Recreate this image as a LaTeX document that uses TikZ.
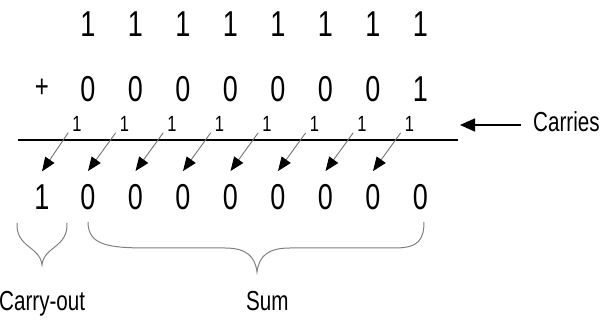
\documentclass[tikz,border=0pt]{standalone}
\usepackage{fontspec}
\setmainfont{Liberation Sans}[FakeStretch=0.75]
\usetikzlibrary{arrows.meta}
\tikzset{
  digit/.style={inner sep=0pt, font=\fontsize{36}{40}\selectfont},
  carrydigit/.style={inner sep=0pt, font=\fontsize{22}{24}\selectfont},
  label/.style={inner sep=0pt, font=\fontsize{27.5}{30}\selectfont},
  carryarrow/.style={draw=black!55, line width=0.9pt, -{Triangle[length=14pt,width=11pt,black]}},
  bracestyle/.style={draw=black!50, line width=1pt},
}
\begin{document}
\begin{tikzpicture}[x=1pt,y=-1pt]
\useasboundingbox (0,0) rectangle (613,320);
% columns
\foreach \i in {0,...,7}{
  \pgfmathsetmacro{\cx}{88+47.5*\i}
  \node[digit] (a\i) at (\cx,24) {1};
  \node[carrydigit] (k\i) at (\cx-11,124) {1};
  \node[digit] (r\i) at (\cx,197) {0};
}
\node[digit] (b0) at (88,89) {0};
\node[digit] (b1) at (135.5,89) {0};
\node[digit] (b2) at (183,89) {0};
\node[digit] (b3) at (230.5,89) {0};
\node[digit] (b4) at (278,89) {0};
\node[digit] (b5) at (325.5,89) {0};
\node[digit] (b6) at (373,89) {0};
\node[digit] (b7) at (420.5,89) {1};
\node[inner sep=0pt, font=\fontsize{32}{34}\selectfont] (plus) at (42,88) {+};
\node[digit] (co) at (42,197) {1};
% sum line
\coordinate (l1) at (18,140);
\coordinate (l2) at (458,140);
\draw[line width=1.6pt] (l1) -- (l2);
% carry arrows
\draw[carryarrow] ([xshift=-4pt,yshift=-1pt]k0.south west) -- ([yshift=13pt]co.north);
\foreach \i [count=\j from 0] in {1,...,7}{
  \draw[carryarrow] ([xshift=-4pt,yshift=-1pt]k\i.south west) -- ([yshift=13pt]r\j.north);
}
% Carries label
\node[label, anchor=base west] (carries) at (533,132) {Carries};
\coordinate (ct) at (460,125);
\draw[line width=1.6pt, -{Triangle[length=15pt,width=13pt]}] ([xshift=-12pt]carries.west |- ct) -- (ct);
% braces
\draw[bracestyle] (17,223) .. controls (16,248) and (40,246) .. (42,265)
                  .. controls (44,246) and (68,248) .. (67,223);
\draw[bracestyle] (88,222) .. controls (88,246) and (110,248) .. (150,248)
                  -- (225,248) .. controls (246,248) and (255,256) .. (257,272)
                  .. controls (259,256) and (268,248) .. (290,248)
                  -- (395,248) .. controls (418,248) and (424,240) .. (424,222);
\node[label, anchor=base west] (cout) at (-1,311) {Carry-out};
\node[label, anchor=base west] (sum) at (246,311) {Sum};
\end{tikzpicture}
\end{document}
